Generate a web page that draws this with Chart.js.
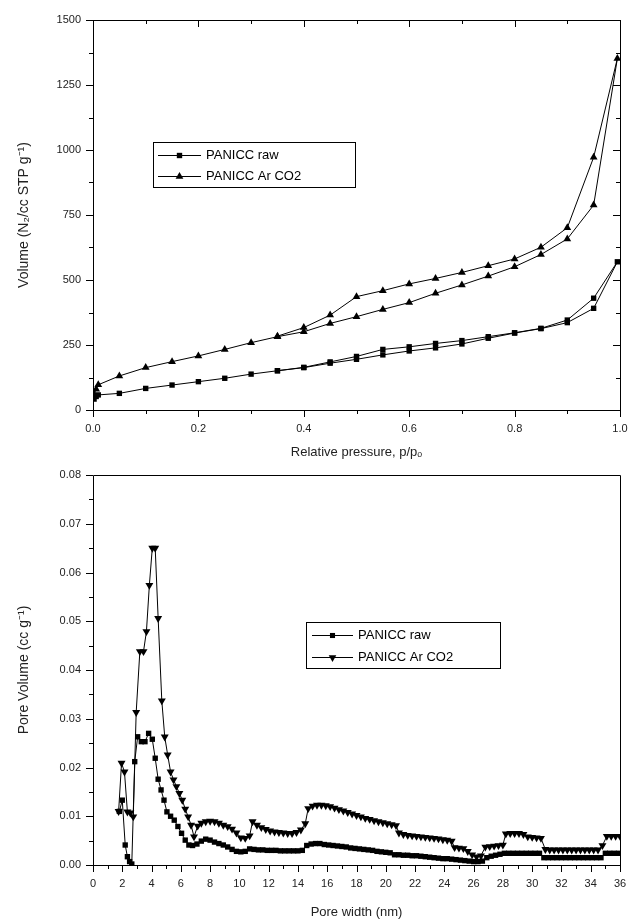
<!DOCTYPE html>
<html>
<head>
<meta charset="utf-8">
<script src="https://cdn.jsdelivr.net/npm/chart.js@4.4.1/dist/chart.umd.min.js"></script>
<style>
  body { margin: 0; background: #fff; }
  canvas { display: block; }
</style>
</head>
<body>
<canvas id="isotherm" width="632" height="460"></canvas>
<canvas id="psd" width="632" height="460"></canvas>
<script>
// ---- isotherm (top) ----
const seriesNames = ['PANICC raw', 'PANICC Ar CO2'];

const pressureAds = [0.002, 0.006, 0.01, 0.05, 0.1, 0.15, 0.2, 0.25, 0.3, 0.35, 0.4, 0.45, 0.5, 0.55, 0.6, 0.65, 0.7, 0.75, 0.8, 0.85, 0.9, 0.95, 0.995];
const pressureDes = [0.95, 0.9, 0.85, 0.8, 0.75, 0.7, 0.65, 0.6, 0.55, 0.5, 0.45, 0.4, 0.35];

const rawAds = [42, 52, 58, 64, 83, 96, 109, 122, 138, 151, 163, 180, 195, 212, 227, 239, 254, 276, 296, 313, 336, 391, 570];
const rawDes = [430, 346, 314, 297, 282, 267, 256, 243, 233, 206, 185, 164, 151];

const arAds = [62, 80, 97, 131, 163, 186, 208, 233, 259, 282, 301, 333, 359, 387, 413, 449, 481, 515, 551, 598, 658, 788, 1352];
const arDes = [972, 701, 626, 581, 555, 529, 506, 485, 459, 436, 365, 317, 284];

// ---- pore size distribution (bottom) ----
const rawWidth = [1.8, 2.0, 2.2, 2.35, 2.5, 2.65, 2.85, 3.05, 3.3, 3.55, 3.8, 4.05, 4.25, 4.45, 4.65, 4.85, 5.05, 5.3, 5.55, 5.8,
  6.05, 6.3, 6.55, 6.8, 7.1, 7.4, 7.7, 8.0, 8.3, 8.6, 8.9, 9.2, 9.5, 9.8, 10.1, 10.4, 10.7, 11.0, 11.3, 11.6,
  11.9, 12.2, 12.5, 12.8, 13.1, 13.4, 13.7, 14.0, 14.3, 14.6, 14.9, 15.2, 15.5, 15.8, 16.1, 16.4, 16.7, 17.0, 17.3, 17.6,
  17.9, 18.2, 18.5, 18.8, 19.1, 19.4, 19.7, 20.0, 20.3, 20.6, 20.9, 21.2, 21.5, 21.8, 22.1, 22.4, 22.7, 23.0, 23.3, 23.6,
  23.9, 24.2, 24.5, 24.8, 25.1, 25.4, 25.7, 26.0, 26.3, 26.6, 26.9, 27.2, 27.5, 27.8, 28.1, 28.4, 28.7, 29.0, 29.3, 29.6,
  29.9, 30.2, 30.5, 30.8, 31.1, 31.4, 31.7, 32.0, 32.3, 32.6, 32.9, 33.2, 33.5, 33.8, 34.1, 34.4, 34.7, 35.0, 35.3, 35.6, 35.9];
const rawPore = [0.0110, 0.0133, 0.0041, 0.0017, 0.0007, 0.0002, 0.0212, 0.0263, 0.0253, 0.0253, 0.0270, 0.0258, 0.0219, 0.0176, 0.0154, 0.0133, 0.0109, 0.0100, 0.0092, 0.0079,
  0.0065, 0.0051, 0.0041, 0.0040, 0.0043, 0.0049, 0.0053, 0.0051, 0.0047, 0.0044, 0.0041, 0.0037, 0.0032, 0.0028, 0.0027, 0.0028, 0.0033, 0.0032, 0.0031, 0.0031,
  0.0030, 0.0030, 0.0030, 0.0029, 0.0029, 0.0029, 0.0029, 0.0029, 0.0030, 0.0040, 0.0043, 0.0044, 0.0044, 0.0042, 0.0041, 0.0040, 0.0039, 0.0038, 0.0037, 0.0035,
  0.0034, 0.0033, 0.0032, 0.0031, 0.0030, 0.0028, 0.0027, 0.0026, 0.0025, 0.0021, 0.0021, 0.0020, 0.0020, 0.0019, 0.0019, 0.0018, 0.0017, 0.0016, 0.0015, 0.0014,
  0.0013, 0.0013, 0.0012, 0.0011, 0.0010, 0.0009, 0.0008, 0.0007, 0.0007, 0.0008, 0.0015, 0.0018, 0.0020, 0.0022, 0.0024, 0.0024, 0.0024, 0.0024, 0.0024, 0.0024,
  0.0024, 0.0024, 0.0024, 0.0015, 0.0015, 0.0015, 0.0015, 0.0015, 0.0015, 0.0015, 0.0015, 0.0015, 0.0015, 0.0015, 0.0015, 0.0015, 0.0015, 0.0024, 0.0024, 0.0024, 0.0024];

const arWidth = [1.75, 1.95, 2.15, 2.35, 2.55, 2.75, 2.95, 3.2, 3.45, 3.65, 3.85, 4.05, 4.25, 4.45, 4.7, 4.9, 5.1, 5.3, 5.5, 5.7,
  5.9, 6.1, 6.3, 6.5, 6.7, 6.9, 7.15, 7.4, 7.7, 8.0, 8.3, 8.6, 8.9, 9.2, 9.5, 9.8, 10.1, 10.4, 10.7, 10.9,
  11.2, 11.5, 11.8, 12.1, 12.4, 12.7, 13.0, 13.3, 13.6, 13.9, 14.2, 14.5, 14.7, 15.0, 15.3, 15.6, 15.9, 16.2, 16.5, 16.8,
  17.1, 17.4, 17.7, 18.0, 18.3, 18.6, 18.9, 19.2, 19.5, 19.8, 20.1, 20.4, 20.7, 20.9, 21.2, 21.5, 21.8, 22.1, 22.4, 22.7,
  23.0, 23.3, 23.6, 23.9, 24.2, 24.5, 24.7, 25.0, 25.3, 25.6, 25.9, 26.2, 26.5, 26.8, 27.1, 27.4, 27.7, 28.0, 28.2, 28.5,
  28.8, 29.1, 29.4, 29.7, 30.0, 30.3, 30.6, 30.9, 31.2, 31.5, 31.8, 32.1, 32.4, 32.7, 33.0, 33.3, 33.6, 33.9, 34.2, 34.5,
  34.8, 35.1, 35.4, 35.7, 36.0];
const arPore = [0.0110, 0.0209, 0.0191, 0.0109, 0.0107, 0.0099, 0.0313, 0.0438, 0.0438, 0.0479, 0.0574, 0.0650, 0.0650, 0.0506, 0.0337, 0.0263, 0.0226, 0.0191, 0.0175, 0.0161,
  0.0147, 0.0133, 0.0115, 0.0099, 0.0082, 0.0058, 0.0080, 0.0086, 0.0089, 0.0090, 0.0089, 0.0086, 0.0082, 0.0079, 0.0074, 0.0066, 0.0056, 0.0055, 0.0060, 0.0089,
  0.0082, 0.0077, 0.0073, 0.0070, 0.0068, 0.0067, 0.0066, 0.0065, 0.0065, 0.0067, 0.0072, 0.0085, 0.0116, 0.0121, 0.0123, 0.0123, 0.0122, 0.0120, 0.0117, 0.0114,
  0.0111, 0.0108, 0.0105, 0.0102, 0.0099, 0.0096, 0.0094, 0.0091, 0.0089, 0.0087, 0.0085, 0.0083, 0.0081, 0.0066, 0.0063, 0.0061, 0.0060, 0.0059, 0.0058, 0.0057,
  0.0056, 0.0055, 0.0054, 0.0052, 0.0051, 0.0049, 0.0036, 0.0035, 0.0034, 0.0028, 0.0021, 0.0017, 0.0019, 0.0037, 0.0038, 0.0039, 0.0040, 0.0041, 0.0064, 0.0065,
  0.0065, 0.0065, 0.0063, 0.0058, 0.0057, 0.0056, 0.0055, 0.0032, 0.0031, 0.0031, 0.0031, 0.0031, 0.0031, 0.0031, 0.0031, 0.0031, 0.0031, 0.0031, 0.0031, 0.0031,
  0.0040, 0.0059, 0.0059, 0.0059, 0.0059];

const toPoints = (xs, ys) => xs.map((x, i) => ({ x: x, y: ys[i] }));
const FONT = "'Liberation Sans', Arial, sans-serif";

// tick marks drawn by hand so minor ticks can be shorter; top/right mirrored inward
const tickMarks = {
  id: 'tickMarks',
  afterDraw(chart, args, opts) {
    const ctx = chart.ctx, a = chart.chartArea;
    const sx = chart.scales.x, sy = chart.scales.y;
    ctx.save();
    ctx.strokeStyle = '#000';
    ctx.lineWidth = 1;
    ctx.beginPath();
    ctx.rect(Math.round(a.left) + 0.5, Math.round(a.top) + 0.5, Math.round(a.right - a.left), Math.round(a.bottom - a.top));
    sx.ticks.forEach(t => {
      const px = Math.round(sx.getPixelForValue(t.value)) + 0.5;
      const len = t.label !== '' ? 7 : 4;
      ctx.moveTo(px, a.bottom); ctx.lineTo(px, a.bottom + len);
      if (opts.mirror) { ctx.moveTo(px, a.top); ctx.lineTo(px, a.top + len); }
    });
    sy.ticks.forEach(t => {
      const py = Math.round(sy.getPixelForValue(t.value)) + 0.5;
      const len = t.label !== '' ? 7 : 4;
      ctx.moveTo(a.left, py); ctx.lineTo(a.left - len, py);
      if (opts.mirror) { ctx.moveTo(a.right, py); ctx.lineTo(a.right - len, py); }
    });
    ctx.stroke();
    ctx.restore();
  }
};

function marker(ctx, style, x, y, r) {
  ctx.beginPath();
  if (style === 'rect') {
    const s = r * Math.SQRT1_2;
    ctx.rect(x - s, y - s, 2 * s, 2 * s);
  } else {
    const dir = style === 'down' ? -1 : 1;
    ctx.moveTo(x, y - dir * r);
    ctx.lineTo(x + r * 0.866, y + dir * r * 0.5);
    ctx.lineTo(x - r * 0.866, y + dir * r * 0.5);
    ctx.closePath();
  }
  ctx.fill();
}

// boxed legend inside the plot area
const boxLegend = {
  id: 'boxLegend',
  afterDraw(chart, args, o) {
    const ctx = chart.ctx;
    ctx.save();
    ctx.strokeStyle = '#000';
    ctx.fillStyle = '#fff';
    ctx.lineWidth = 1;
    ctx.fillRect(o.left, o.top, o.width, o.height);
    ctx.strokeRect(o.left + 0.5, o.top + 0.5, o.width, o.height);
    ctx.fillStyle = '#000';
    ctx.font = '13px ' + FONT;
    ctx.textBaseline = 'middle';
    chart.data.datasets.forEach((ds, i) => {
      const y = Math.round(o.rows[i]) + 0.5;
      ctx.beginPath();
      ctx.moveTo(o.lineStart, y);
      ctx.lineTo(o.lineEnd, y);
      ctx.stroke();
      marker(ctx, o.markers[i], (o.lineStart + o.lineEnd) / 2, y, o.sizes[i]);
      ctx.fillText(ds.label, o.textX, y);
    });
    ctx.restore();
  }
};

function axisBase(extra) {
  return Object.assign({
    type: 'linear',
    grid: { display: false, drawTicks: false },
    border: { display: false },
    ticks: { autoSkip: false, color: '#222', font: { family: FONT, size: 11 } }
  }, extra);
}

// keep end labels from shrinking the plot area
function fixX(h) {
  return s => { s.height = h; s.paddingLeft = 0; s.paddingRight = 0; };
}
function fixY(s) {
  s.width = 93; s.paddingTop = 0; s.paddingBottom = 0;
}

// ---- top chart ----
new Chart(document.getElementById('isotherm'), {
  type: 'scatter',
  data: {
    datasets: [
      {
        label: seriesNames[0],
        data: toPoints(pressureAds.concat(pressureDes), rawAds.concat(rawDes)),
        pointStyle: 'rect', pointRadius: 3.8
      },
      {
        label: seriesNames[1],
        data: toPoints(pressureAds.concat(pressureDes), arAds.concat(arDes)),
        pointStyle: 'triangle', pointRadius: 4.5
      }
    ].map(d => Object.assign(d, {
      showLine: true, borderColor: '#000', borderWidth: 1,
      backgroundColor: '#000', pointBorderWidth: 0
    }))
  },
  options: {
    responsive: false,
    animation: false,
    layout: { padding: { top: 20, right: 12, left: 0, bottom: 0 } },
    plugins: {
      legend: { display: false },
      tooltip: { enabled: false },
      tickMarks: { mirror: true },
      boxLegend: {
        left: 153, top: 142, width: 202, height: 45,
        lineStart: 158, lineEnd: 201, textX: 206,
        rows: [155, 176], markers: ['rect', 'up'], sizes: [3.8, 4.5]
      }
    },
    scales: {
      x: axisBase({
        min: 0, max: 1,
        afterFit: fixX(50),
        ticks: {
          autoSkip: false, color: '#222', font: { family: FONT, size: 11 },
          stepSize: 0.1, padding: 12, maxRotation: 0,
          callback: v => Math.round(v * 10) % 2 === 0 ? v.toFixed(1) : ''
        },
        title: { display: true, text: 'Relative pressure, p/pₒ', color: '#222', font: { family: FONT, size: 13 }, padding: 0 }
      }),
      y: axisBase({
        min: 0, max: 1500,
        afterFit: fixY,
        ticks: {
          autoSkip: false, color: '#222', font: { family: FONT, size: 11 },
          stepSize: 125, padding: 12,
          callback: v => v % 250 === 0 ? String(v) : ''
        },
        title: { display: true, text: 'Volume (N₂/cc STP g⁻¹)', color: '#222', font: { family: FONT, size: 14 }, padding: { top: 16 } }
      })
    }
  },
  plugins: [tickMarks, boxLegend]
});

// ---- bottom chart ----
new Chart(document.getElementById('psd'), {
  type: 'scatter',
  data: {
    datasets: [
      {
        label: seriesNames[0],
        data: toPoints(rawWidth, rawPore),
        pointStyle: 'rect', pointRadius: 3.8, rotation: 0
      },
      {
        label: seriesNames[1],
        data: toPoints(arWidth, arPore),
        pointStyle: 'triangle', pointRadius: 4.6, rotation: 180
      }
    ].map(d => Object.assign(d, {
      showLine: true, borderColor: '#000', borderWidth: 1,
      backgroundColor: '#000', pointBorderWidth: 0
    }))
  },
  options: {
    responsive: false,
    animation: false,
    layout: { padding: { top: 15, right: 12, left: 0, bottom: 0 } },
    plugins: {
      legend: { display: false },
      tooltip: { enabled: false },
      tickMarks: { mirror: false },
      boxLegend: {
        left: 306, top: 162, width: 194, height: 46,
        lineStart: 312, lineEnd: 353, textX: 358,
        rows: [175, 197], markers: ['rect', 'down'], sizes: [3.6, 4.4]
      }
    },
    scales: {
      x: axisBase({
        min: 0, max: 36,
        afterFit: fixX(55),
        ticks: {
          autoSkip: false, color: '#222', font: { family: FONT, size: 11 },
          stepSize: 1, padding: 12, maxRotation: 0,
          callback: v => v % 2 === 0 ? String(v) : ''
        },
        title: { display: true, text: 'Pore width (nm)', color: '#222', font: { family: FONT, size: 13 }, padding: 0 }
      }),
      y: axisBase({
        min: 0, max: 0.08,
        afterFit: fixY,
        ticks: {
          autoSkip: false, color: '#222', font: { family: FONT, size: 11 },
          stepSize: 0.005, padding: 12,
          callback: v => Math.round(v * 1000) % 10 === 0 ? v.toFixed(2) : ''
        },
        title: { display: true, text: 'Pore Volume (cc g⁻¹)', color: '#222', font: { family: FONT, size: 14 }, padding: { top: 16 } }
      })
    }
  },
  plugins: [tickMarks, boxLegend]
});
</script>
</body>
</html>
